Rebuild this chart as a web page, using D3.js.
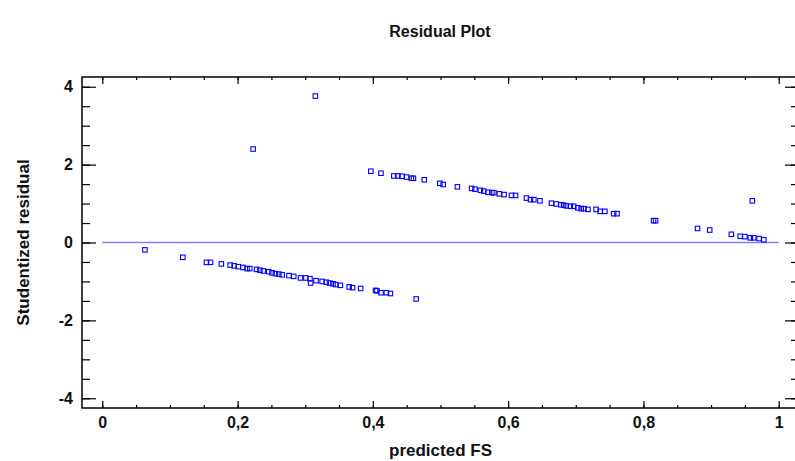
<!DOCTYPE html>
<html>
<head>
<meta charset="utf-8">
<script src="https://cdn.jsdelivr.net/npm/d3@7"></script>
<style>
  body { margin: 0; background: #fff; }
  text { font-family: "Liberation Sans", Arial, sans-serif; font-weight: bold; fill: #111; }
</style>
</head>
<body>
<div id="chart"></div>
<script>
// residual plot data
var predicted = [
  0.063, 0.119, 0.154, 0.160, 0.176, 0.189, 0.195, 0.201, 0.208, 0.214,
  0.218, 0.228, 0.233, 0.238, 0.246, 0.251, 0.256, 0.261, 0.266, 0.276,
  0.283, 0.293, 0.301, 0.307, 0.308, 0.316, 0.325, 0.331, 0.336, 0.341,
  0.345, 0.352, 0.365, 0.370, 0.382, 0.404, 0.406, 0.412, 0.420, 0.426,
  0.464,
  0.397, 0.412, 0.431, 0.437, 0.443, 0.450, 0.457, 0.460, 0.476, 0.499,
  0.504, 0.525, 0.546, 0.551, 0.559, 0.564, 0.570, 0.576, 0.579, 0.587,
  0.594, 0.605, 0.611, 0.627, 0.633, 0.638, 0.647, 0.664, 0.671, 0.678,
  0.682, 0.686, 0.692, 0.697, 0.703, 0.708, 0.712, 0.718, 0.730, 0.736,
  0.743, 0.756, 0.761, 0.815, 0.818, 0.880, 0.898, 0.930, 0.943, 0.950,
  0.958, 0.963, 0.971, 0.978,
  0.223, 0.315, 0.961
];
var residual = [
  -0.19, -0.38, -0.51, -0.51, -0.55, -0.58, -0.60, -0.62, -0.64, -0.67,
  -0.67, -0.69, -0.71, -0.73, -0.75, -0.78, -0.80, -0.81, -0.83, -0.85,
  -0.87, -0.91, -0.91, -0.93, -1.04, -0.98, -1.00, -1.02, -1.04, -1.06,
  -1.08, -1.10, -1.14, -1.16, -1.18, -1.23, -1.24, -1.29, -1.29, -1.31,
  -1.45,
  1.83, 1.78, 1.71, 1.71, 1.70, 1.68, 1.65, 1.65, 1.61, 1.52,
  1.49, 1.43, 1.39, 1.37, 1.34, 1.32, 1.29, 1.28, 1.28, 1.25,
  1.23, 1.21, 1.21, 1.14, 1.10, 1.10, 1.07, 1.01, 0.99, 0.97,
  0.96, 0.94, 0.93, 0.93, 0.89, 0.87, 0.87, 0.85, 0.85, 0.80,
  0.80, 0.74, 0.74, 0.56, 0.56, 0.36, 0.32, 0.21, 0.16, 0.15,
  0.12, 0.12, 0.10, 0.07,
  2.40, 3.76, 1.07
];

var xTicks = [0, 0.2, 0.4, 0.6, 0.8, 1];
var xMinor = d3.range(0, 1.001, 0.05);
var yTicks = [-4, -2, 0, 2, 4];
var yMinor = d3.range(-4, 4.001, 0.5);

var width = 795,
    height = 461;
var pLeft = 82, pRight = 799, pTop = 77, pBottom = 408;

var svg = d3.select("#chart").append("svg")
    .attr("width", width)
    .attr("height", height);

var x = d3.scaleLinear().domain([-0.03, 1.03]).range([pLeft, pRight]);
var y = d3.scaleLinear().domain([-4.25, 4.25]).range([pBottom, pTop]);

// decimal comma, plain hyphen for minus
var fmt = function(d) { return String(d).replace(".", ","); };

// frame
svg.append("rect")
    .attr("x", pLeft).attr("y", pTop)
    .attr("width", pRight - pLeft).attr("height", pBottom - pTop)
    .attr("fill", "none").attr("stroke", "#000").attr("stroke-width", 1.5);

function ticks(axis, tr) {
  var g = svg.append("g").attr("transform", tr).call(axis);
  g.select(".domain").remove();
  g.selectAll("line").attr("stroke", "#000").attr("stroke-width", 1.2);
  return g;
}

// x ticks, bottom and top, pointing inward
ticks(d3.axisBottom(x).tickValues(xMinor).tickSize(-3).tickFormat(""), "translate(0," + pBottom + ")");
ticks(d3.axisTop(x).tickValues(xMinor).tickSize(-3).tickFormat(""), "translate(0," + pTop + ")");
ticks(d3.axisTop(x).tickValues(xTicks).tickSize(-7).tickFormat(""), "translate(0," + pTop + ")");
var gx = ticks(d3.axisBottom(x).tickValues(xTicks).tickSize(-7).tickPadding(9).tickFormat(fmt),
  "translate(0," + pBottom + ")");
gx.selectAll("text").style("font-size", "16px").style("font-family", null).attr("fill", null);

// y ticks, left and right
ticks(d3.axisLeft(y).tickValues(yMinor).tickSize(-8).tickFormat(""), "translate(" + pLeft + ",0)");
ticks(d3.axisRight(y).tickValues(yMinor).tickSize(-8).tickFormat(""), "translate(" + pRight + ",0)");
ticks(d3.axisRight(y).tickValues(yTicks).tickSize(-14).tickFormat(""), "translate(" + pRight + ",0)");
var gy = ticks(d3.axisLeft(y).tickValues(yTicks).tickSize(-14).tickPadding(9).tickFormat(fmt),
  "translate(" + pLeft + ",0)");
gy.selectAll("text").style("font-size", "16px").style("font-family", null).attr("fill", null);

// zero line
svg.append("line")
    .attr("x1", x(0)).attr("x2", x(1))
    .attr("y1", y(0)).attr("y2", y(0))
    .attr("stroke", "#7f7fff").attr("stroke-width", 1.5);

// points
svg.append("g").selectAll("rect")
    .data(predicted)
    .enter()
    .append("rect")
    .attr("x", function(d) { return x(d) - 2.25; })
    .attr("y", function(d, i) { return y(residual[i]) - 2.25; })
    .attr("width", 4.5)
    .attr("height", 4.5)
    .attr("fill", "none")
    .attr("stroke", "#0000ff")
    .attr("stroke-width", 1.1);

// titles
svg.append("text")
    .attr("x", 440).attr("y", 37)
    .attr("text-anchor", "middle")
    .style("font-size", "16px")
    .text("Residual Plot");

svg.append("text")
    .attr("x", x(0.5)).attr("y", 456)
    .attr("text-anchor", "middle")
    .style("font-size", "17px")
    .text("predicted FS");

svg.append("text")
    .attr("transform", "translate(29," + y(0) + ") rotate(-90)")
    .attr("text-anchor", "middle")
    .style("font-size", "17px")
    .text("Studentized residual");
</script>
</body>
</html>
